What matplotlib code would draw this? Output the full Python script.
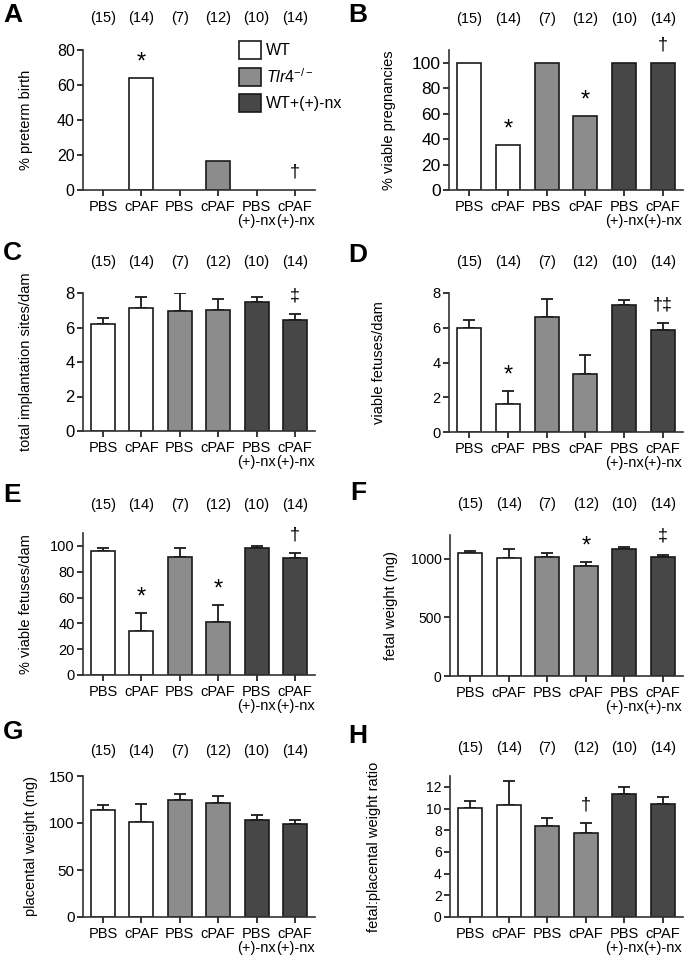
import numpy as np
import matplotlib.pyplot as plt
from matplotlib.patches import Patch
from matplotlib.transforms import blended_transform_factory

plt.rcParams['font.family'] = ['Liberation Sans', 'DejaVu Sans']
plt.rcParams['mathtext.fontset'] = 'custom'
plt.rcParams['mathtext.rm'] = 'Liberation Sans'
plt.rcParams['mathtext.it'] = 'Liberation Sans:italic'

# group info
n_counts = ['(15)', '(14)', '(7)', '(12)', '(10)', '(14)']
x_labels = ['PBS', 'cPAF', 'PBS', 'cPAF', 'PBS\n(+)-nx', 'cPAF\n(+)-nx']
bar_colors = ['white', 'white', '#8c8c8c', '#8c8c8c', '#474747', '#474747']
legend_labels = ['WT', r'$\mathit{Tlr4}^{-/-}$', 'WT+(+)-nx']
legend_colors = ['white', '#8c8c8c', '#474747']

# values (mean, upper SEM)
preterm = [0, 64, 0, 16.5, 0, 0]
viable_preg = [100, 35.7, 100, 58.3, 100, 100]
implant_mean = [6.2, 7.15, 6.95, 7.0, 7.45, 6.45]
implant_sem = [0.37, 0.63, 1.05, 0.64, 0.33, 0.34]
viable_mean = [5.97, 1.6, 6.6, 3.35, 7.3, 5.85]
viable_sem = [0.45, 0.77, 1.08, 1.09, 0.27, 0.4]
pct_viable_mean = [95.8, 34, 91.2, 41.3, 98.7, 90.6]
pct_viable_sem = [2.6, 13.8, 7.2, 12.7, 1.3, 4.2]
fetal_wt_mean = [1045, 1006, 1014, 940, 1080, 1011]
fetal_wt_sem = [23, 76, 31, 34, 22, 23]
placental_mean = [113.8, 101, 124, 121, 103.2, 98.6]
placental_sem = [5, 19, 6.5, 7.7, 5.3, 4.9]
ratio_mean = [10.06, 10.34, 8.37, 7.78, 11.35, 10.43]
ratio_sem = [0.62, 2.2, 0.77, 0.87, 0.65, 0.62]

W, H = 686, 959
fig = plt.figure(figsize=(W / 100, H / 100), dpi=100)


def px_rect(x0, top, w, bottom):
    return [x0 / W, 1 - bottom / H, w / W, (bottom - top) / H]


panels = [
    # letter, vals, errs, ylabel, ytop, yticks, rect(px), marks, n offset, ylabel x, ytick size, letter pos
    ('A', preterm, None, '% preterm birth', 80, [0, 20, 40, 60, 80],
     (83, 50, 232, 190), {1: '*', 5: '†'}, 23, -0.215, 11.5, (3, 3)),
    ('B', viable_preg, None, '% viable pregnancies', 110, [0, 20, 40, 60, 80, 100],
     (449, 50, 234, 190), {1: '*', 3: '*', 5: '†'}, 22, -0.225, 12.5, (348, 3)),
    ('C', implant_mean, implant_sem, 'total implantation sites/dam', 8, [0, 2, 4, 6, 8],
     (83, 293, 232, 431), {5: '‡'}, 22, -0.215, 12, (3, 241)),
    ('D', viable_mean, viable_sem, 'viable fetuses/dam', 8, [0, 2, 4, 6, 8],
     (449, 293, 234, 432), {1: '*', 5: '†‡'}, 22, -0.27, 10.5, (348, 243)),
    ('E', pct_viable_mean, pct_viable_sem, '% viable fetuses/dam', 110, [0, 20, 40, 60, 80, 100],
     (83, 533, 232, 675), {1: '*', 3: '*', 5: '†'}, 20, -0.215, 10.5, (3, 483)),
    ('F', fetal_wt_mean, fetal_wt_sem, 'fetal weight (mg)', 1200, [0, 500, 1000],
     (450, 535, 233, 676), {3: '*', 5: '‡'}, 22, -0.225, 10, (350, 481)),
    ('G', placental_mean, placental_sem, 'placental weight (mg)', 150, [0, 50, 100, 150],
     (83, 776, 232, 917), {}, 18, -0.195, 11, (3, 720)),
    ('H', ratio_mean, ratio_sem, 'fetal:placental weight ratio', 13, [0, 2, 4, 6, 8, 10, 12],
     (450, 776, 233, 917), {3: '†'}, 20, -0.295, 10, (348, 724)),
]

x = np.arange(6)
axes = {}
for (letter, vals, errs, ylabel, ytop, yticks, rect, marks, n_off, ylab_x,
     ytick_fs, lpos) in panels:
    x0, top, w, bottom = rect
    ax = fig.add_axes(px_rect(x0, top, w, bottom))
    axes[letter] = ax
    # no outline for empty (zero) bars
    lws = [1.2 if v > 0 else 0 for v in vals]
    ax.bar(x, vals, width=0.62, color=bar_colors, edgecolor='#1a1a1a',
           linewidth=lws, zorder=2)
    tops = np.array(vals, dtype=float)
    if errs is not None:
        ax.errorbar(x, vals, yerr=[np.zeros(6), errs], fmt='none', ecolor='#1a1a1a',
                    elinewidth=1.3, capsize=4.6, capthick=1.3, zorder=1)
        tops = tops + np.array(errs)
    ax.set_xlim(-0.52, 5.52)
    ax.set_ylim(0, ytop)
    ax.set_yticks(yticks)
    ax.set_xticks(x)
    ax.set_xticklabels(x_labels, fontsize=10.5, linespacing=1.0)
    ax.tick_params(axis='y', labelsize=ytick_fs, length=4, width=1.1, pad=2)
    ax.tick_params(axis='x', length=4, width=1.1, pad=3)
    for s in ['top', 'right']:
        ax.spines[s].set_visible(False)
    for s in ['left', 'bottom']:
        ax.spines[s].set_linewidth(1.2)
        ax.spines[s].set_color('#333333')
    ax.set_ylabel(ylabel, fontsize=10.5)
    ax.yaxis.set_label_coords(ylab_x, 0.5)

    trans = blended_transform_factory(ax.transData, ax.transAxes)
    for i, n in enumerate(n_counts):
        ax.annotate(n, xy=(i, 1), xycoords=trans, xytext=(0, n_off),
                    textcoords='offset points', ha='center', va='center',
                    fontsize=10.5, annotation_clip=False)

    for i, sym in marks.items():
        if sym == '*':
            off, fs = 11, 17
        else:
            off, fs = 13, 13
        ax.annotate(sym, xy=(i, tops[i]), xytext=(0, off), textcoords='offset points',
                    ha='center', va='center', fontsize=fs, annotation_clip=False)

    fig.text(lpos[0] / W, 1 - lpos[1] / H, letter, fontsize=19, fontweight='bold',
             ha='left', va='top')

handles = [Patch(facecolor=c, edgecolor='#1a1a1a', linewidth=1.2) for c in legend_colors]
axes['A'].legend(handles, legend_labels, loc='upper left',
                 bbox_to_anchor=(239 / W, 1 - 41 / H), bbox_transform=fig.transFigure,
                 frameon=False, borderpad=0, borderaxespad=0, fontsize=11.5,
                 handlelength=1.38, handleheight=1.34, labelspacing=0.5,
                 handletextpad=0.33)

fig.savefig('out.png', dpi=100)
